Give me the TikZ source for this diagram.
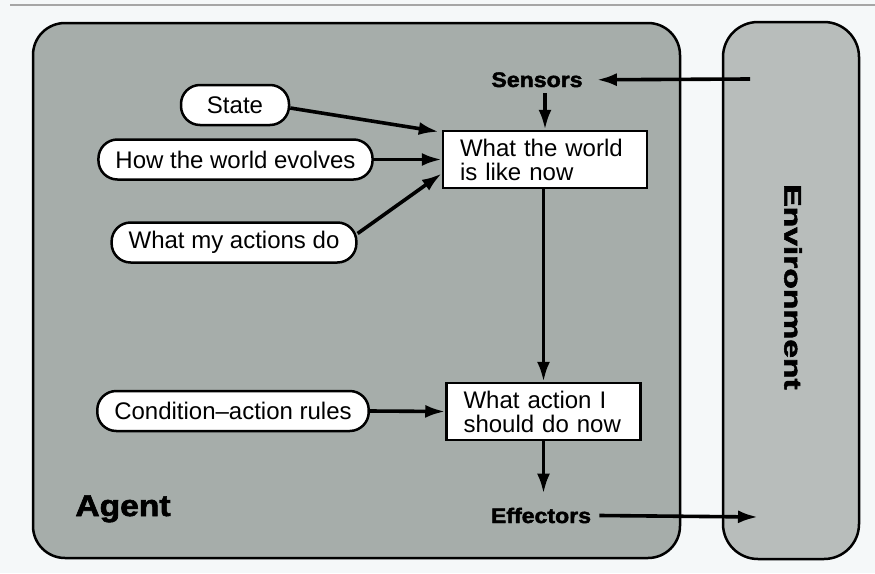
\documentclass[tikz,border=0pt]{standalone}
\usepackage{fontspec}
\setmainfont{Liberation Sans}
\newfontfamily\heavyfont{Liberation Sans Bold}[FakeBold=2]
\usepackage{graphicx}
\usetikzlibrary{arrows.meta}
\definecolor{agentgray}{RGB}{166,173,170}
\definecolor{envgray}{RGB}{184,189,187}
\definecolor{paper}{RGB}{245,248,249}
\begin{document}
\begin{tikzpicture}[x=1pt,y=-1pt,
  pill/.style={draw=black, line width=2.5pt, fill=white, rounded corners=19pt,
    minimum height=40pt, inner xsep=17pt, inner ysep=0pt,
    font=\fontsize{24}{25}\selectfont},
  box/.style={draw=black, line width=2.5pt, fill=white, minimum height=57pt,
    inner xsep=17pt, inner ysep=0pt, align=left,
    font=\fontsize{24}{24}\selectfont},
  arr/.style={line width=3.6pt, -{Latex[length=20pt,width=13pt]}},
  lbl/.style={font=\fontsize{21}{22}\selectfont\heavyfont, inner sep=0pt, anchor=base}
]
\useasboundingbox (0,0) rectangle (875,573);
\fill[paper] (0,0) rectangle (875,573);
\draw[gray!70, line width=2pt] (10,5) -- (875,5);
% frames
\draw[line width=2.5pt, fill=agentgray, rounded corners=32pt] (33,23) rectangle (680,558);
\draw[line width=2.5pt, fill=envgray, rounded corners=35pt] (723,22) rectangle (859,559);
% pills
\node[pill, minimum width=108pt] (st) at (235,105) {State};
\node[pill] (hw) at (235.5,159.5) {How the world evolves};
\node[pill] (ma) at (234,242.5) {What my actions do};
\node[pill] (cr) at (233,411) {Condition–action rules};
% boxes
\node[box, text width=170pt] (w) at (545,159.5) {What the world\\is like now};
\node[box, text width=160pt] (a) at (543.5,411.5) {What action I\\should do now};
% labels
\node[lbl] (s) at (537,87) {\scalebox{1.1}[1]{Sensors}};
\node[lbl] (e) at (541,523) {\scalebox{1.1}[1]{Effectors}};
\node[font=\fontsize{30}{30}\selectfont\heavyfont, inner sep=0pt, anchor=base] (ag) at (123,516) {\scalebox{1.12}[1]{Agent}};
\node[font=\fontsize{24}{24}\selectfont\heavyfont, rotate=-90, inner sep=0pt] (env) at (793,287) {\scalebox{1.4}[1]{Environment}};
% connectors
\coordinate (sin) at (750,79);
\coordinate (eout) at (758,517);
\coordinate (sb) at (w.north |- s.south);
\coordinate (et) at (e.north -| a.south);
\draw[arr] (sin) -- ([xshift=14pt]s.east);
\draw[arr] ([yshift=-6pt]sb) -- (w.north);
\draw[arr] (w.south -| a.north) -- (a.north);
\draw[arr] (a.south) -- ([yshift=14pt]et);
\draw[arr] ([xshift=8pt]e.east) -- (eout);
\draw[arr] ([yshift=-3pt]st.east) -- ([xshift=-3pt,yshift=-2pt]w.north west);
\draw[arr] (hw.east) -- (w.west);
\draw[arr] ([yshift=9pt]ma.east) -- ([yshift=-14pt]w.west);
\draw[arr] (cr.east) -- (a.west);
\end{tikzpicture}
\end{document}
